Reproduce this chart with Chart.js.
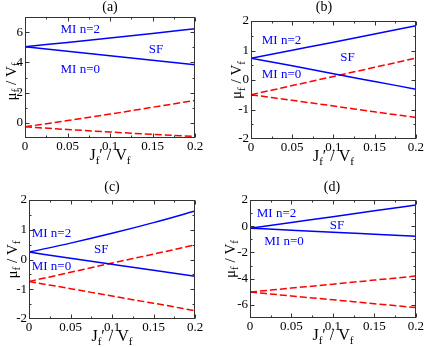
<!DOCTYPE html>
<html>
<head>
<meta charset="utf-8">
<script src="https://cdn.jsdelivr.net/npm/chart.js@4.4.1/dist/chart.umd.min.js"></script>
<style>
  body { margin: 0; background: #fff; }
  #wrap { position: relative; width: 425px; height: 347px; overflow: hidden; background: #fff; }
  canvas { position: absolute; }
</style>
</head>
<body>
<div id="wrap">
  <canvas id="panelA" width="212" height="172" style="left:0;top:0"></canvas>
  <canvas id="panelB" width="213" height="172" style="left:212px;top:0"></canvas>
  <canvas id="panelC" width="212" height="175" style="left:0;top:172px"></canvas>
  <canvas id="panelD" width="213" height="175" style="left:212px;top:172px"></canvas>
</div>
<script>
// J_f' / V_f sample points (same for every curve)
const hopping = [0, 0.05, 0.1, 0.15, 0.2];
const xTicks = [0, 0.05, 0.1, 0.15, 0.2];

// (a)
const aMott2 = [5.03, 5.32, 5.61, 5.91, 6.22];
const aMott0 = [5.03, 4.73, 4.44, 4.14, 3.85];
const aDashUp = [-0.26, 0.15, 0.58, 1.03, 1.49];
const aDashDown = [-0.26, -0.44, -0.6, -0.76, -0.9];
const aTicks = [0, 2, 4, 6];

// (b)
const bMott2 = [0.74, 1.01, 1.28, 1.56, 1.84];
const bMott0 = [0.74, 0.48, 0.21, -0.05, -0.31];
const bDashUp = [-0.5, -0.19, 0.12, 0.43, 0.74];
const bDashDown = [-0.5, -0.69, -0.88, -1.08, -1.27];
const bTicks = [-2, -1, 0, 1, 2];

// (c)
const cMott2 = [0.25, 0.55, 0.88, 1.24, 1.63];
const cMott0 = [0.25, 0.04, -0.16, -0.36, -0.56];
const cDashUp = [-0.74, -0.43, -0.12, 0.18, 0.49];
const cDashDown = [-0.74, -0.98, -1.23, -1.47, -1.72];
const cTicks = [-2, -1, 0, 1, 2];

// (d)
const dMott2 = [-0.15, 0.29, 0.73, 1.18, 1.62];
const dMott0 = [-0.15, -0.3, -0.46, -0.61, -0.76];
const dDashUp = [-5.02, -4.72, -4.42, -4.11, -3.8];
const dDashDown = [-5.02, -5.32, -5.61, -5.91, -6.2];
const dTicks = [-6, -4, -2, 0, 2];

const phaseNames = ['MI n=2', 'SF', 'MI n=0'];

Chart.defaults.font.family = "'Liberation Serif', 'Times New Roman', serif";
Chart.defaults.color = '#000';

// text with subscripts, parts = [[text, isSub], ...]
function drawRich(ctx, parts, x, y, size) {
  const big = size + "px 'Liberation Serif'";
  const small = Math.round(size * 0.7) + "px 'Liberation Serif'";
  let w = 0;
  parts.forEach(([t, sub]) => { ctx.font = sub ? small : big; w += ctx.measureText(t).width; });
  let cx = x - w / 2;
  ctx.textAlign = 'left';
  ctx.textBaseline = 'alphabetic';
  parts.forEach(([t, sub]) => {
    ctx.font = sub ? small : big;
    ctx.fillText(t, cx, sub ? y + size * 0.25 : y);
    cx += ctx.measureText(t).width;
  });
}

// frame, inward ticks, titles and phase labels
const decor = {
  id: 'decor',
  afterDraw(chart) {
    const o = chart.options.plugins.decor;
    const { ctx, chartArea: a, scales: { x, y } } = chart;
    const L = Math.round(a.left) + 0.5, R = Math.round(a.right) - 0.5;
    const T = Math.round(a.top) + 0.5, B = Math.round(a.bottom) - 0.5;
    ctx.save();
    ctx.strokeStyle = '#333';
    ctx.lineWidth = 1;
    ctx.strokeRect(L, T, R - L, B - T);

    const tick = (v, len, horiz) => {
      if (horiz) {
        const px = Math.round(x.getPixelForValue(v)) + 0.5;
        ctx.moveTo(px, B); ctx.lineTo(px, B - len);
        ctx.moveTo(px, T); ctx.lineTo(px, T + len);
      } else {
        const py = Math.round(y.getPixelForValue(v)) + 0.5;
        ctx.moveTo(L, py); ctx.lineTo(L + len, py);
        ctx.moveTo(R, py); ctx.lineTo(R - len, py);
      }
    };
    ctx.beginPath();
    xTicks.forEach(v => tick(v, 4, true));
    for (let i = 0; i < xTicks.length - 1; i++) tick((xTicks[i] + xTicks[i + 1]) / 2, 2, true);
    const yt = o.ticks, st = yt[1] - yt[0];
    yt.forEach(v => { if (v > y.min && v < y.max) tick(v, 4, false); });
    for (let v = yt[0] - st / 2; v < y.max; v += st) if (v > y.min) tick(v, 2, false);
    ctx.stroke();

    // panel title
    ctx.fillStyle = '#000';
    ctx.font = "14px 'Liberation Serif'";
    ctx.textAlign = 'center';
    ctx.textBaseline = 'middle';
    ctx.fillText(o.title, o.titleX, o.titleY);

    // axis titles
    drawRich(ctx, [['J', false], ['f', true], ['\u2032 / V', false], ['f', true]], (a.left + a.right) / 2, a.bottom + 22, 16);
    ctx.save();
    ctx.translate(o.yTitleX, (a.top + a.bottom) / 2 + o.yTitleDy);
    ctx.rotate(-Math.PI / 2);
    drawRich(ctx, [['\u03bc', false], ['f', true], [' / V', false], ['f', true]], 0, 0, 15);
    ctx.restore();

    // phase labels
    ctx.fillStyle = '#0000ff';
    ctx.font = "13px 'Liberation Serif'";
    ctx.textAlign = 'center';
    ctx.textBaseline = 'middle';
    o.labels.forEach((p, i) => {
      ctx.fillText(phaseNames[i], x.getPixelForValue(p[0]), y.getPixelForValue(p[1]));
    });
    ctx.restore();
  }
};

function curve(values, dashed) {
  return {
    data: hopping.map((j, i) => ({ x: j, y: values[i] })),
    borderColor: dashed ? '#ff0000' : '#0000ff',
    borderWidth: 1.5,
    borderDash: dashed ? [7, 3] : [],
    pointRadius: 0,
    fill: false,
    cubicInterpolationMode: 'monotone'
  };
}

function makePanel(id, cfg) {
  new Chart(document.getElementById(id), {
    type: 'line',
    data: {
      datasets: [
        curve(cfg.series[0], false), curve(cfg.series[1], false),
        curve(cfg.series[2], true), curve(cfg.series[3], true)
      ]
    },
    options: {
      responsive: false,
      animation: false,
      layout: { padding: { left: 0, top: cfg.top, right: cfg.right, bottom: 0 } },
      plugins: {
        legend: { display: false },
        tooltip: { enabled: false },
        decor: cfg.decor
      },
      scales: {
        x: {
          type: 'linear', min: 0, max: 0.2,
          grid: { display: false, drawTicks: false },
          border: { display: false },
          afterBuildTicks: s => { s.ticks = xTicks.map(v => ({ value: v })); },
          afterFit: s => { s.height = cfg.xAxisH; },
          ticks: { padding: 1, autoSkip: false, maxRotation: 0, font: { size: 13 },
                   callback: v => String(+v.toFixed(2)) }
        },
        y: {
          type: 'linear', min: cfg.yMin, max: cfg.yMax,
          grid: { display: false, drawTicks: false },
          border: { display: false },
          afterBuildTicks: s => { s.ticks = cfg.decor.ticks.map(v => ({ value: v })); },
          afterFit: s => { s.width = cfg.yAxisW; },
          ticks: { padding: 2, autoSkip: false, font: { size: 13 } }
        }
      }
    },
    plugins: [decor]
  });
}

makePanel('panelA', {
  series: [aMott2, aMott0, aDashUp, aDashDown],
  yMin: -1, yMax: 7, top: 17, right: 17, xAxisH: 34, yAxisW: 25,
  decor: { ticks: aTicks, title: '(a)', titleX: 110, titleY: 7, yTitleX: 15.5, yTitleDy: 4,
           labels: [[0.065, 6.15], [0.154, 4.84], [0.065, 3.52]] }
});
makePanel('panelB', {
  series: [bMott2, bMott0, bDashUp, bDashDown],
  yMin: -2, yMax: 2, top: 21, right: 9, xAxisH: 33, yAxisW: 39,
  decor: { ticks: bTicks, title: '(b)', titleX: 112, titleY: 7, yTitleX: 29, yTitleDy: 0,
           labels: [[0.037, 1.35], [0.117, 0.76], [0.037, 0.17]] }
});
makePanel('panelC', {
  series: [cMott2, cMott0, cDashUp, cDashDown],
  yMin: -2, yMax: 2, top: 28, right: 17, xAxisH: 28, yAxisW: 29,
  decor: { ticks: cTicks, title: '(c)', titleX: 112, titleY: 15, yTitleX: 16.7, yTitleDy: 0,
           labels: [[0.027, 0.87], [0.087, 0.34], [0.027, -0.24]] }
});
makePanel('panelD', {
  series: [dMott2, dMott0, dDashUp, dDashDown],
  yMin: -7, yMax: 2, top: 28, right: 9, xAxisH: 29, yAxisW: 38,
  decor: { ticks: dTicks, title: '(d)', titleX: 120, titleY: 15, yTitleX: 22.7, yTitleDy: 0,
           labels: [[0.032, 0.94], [0.105, 0.05], [0.041, -1.19]] }
});
</script>
</body>
</html>
